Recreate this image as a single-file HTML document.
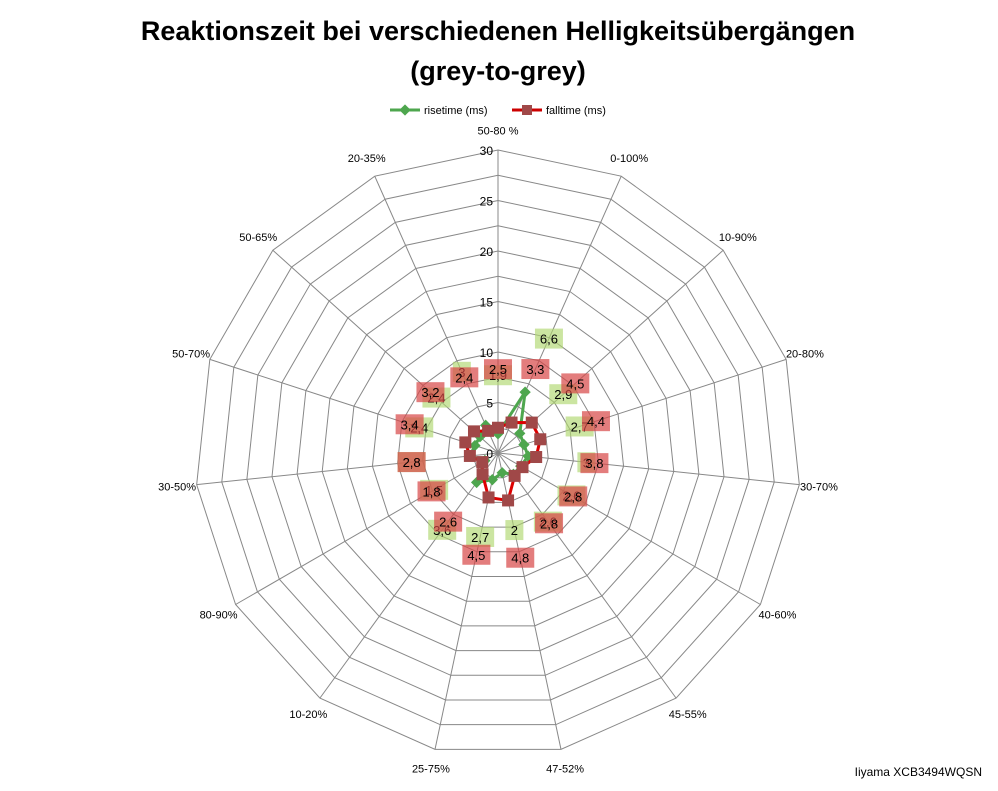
<!DOCTYPE html>
<html><head><meta charset="utf-8"><style>
body{margin:0;background:#fff;font-family:"Liberation Sans",sans-serif}
svg text{font-family:"Liberation Sans",sans-serif}
</style></head><body>
<svg width="998" height="786" viewBox="0 0 998 786">
<text x="498" y="40" text-anchor="middle" font-size="27" font-weight="bold">Reaktionszeit bei verschiedenen Helligkeitsübergängen</text>
<text x="498" y="80" text-anchor="middle" font-size="27" font-weight="bold">(grey-to-grey)</text>
<g>
<line x1="390" y1="110" x2="420" y2="110" stroke="#4ea64e" stroke-width="3"/><rect x="401" y="106" width="8" height="8" fill="#4ea64e" transform="rotate(45 405 110)"/>
<text x="424" y="114" font-size="11">risetime (ms)</text>
<line x1="512" y1="110" x2="542" y2="110" stroke="#cc0000" stroke-width="3"/><rect x="522" y="105" width="10" height="10" fill="#a04848"/>
<text x="546" y="114" font-size="11">falltime (ms)</text>
</g>
<g id="grid"></g><g id="series"></g><g id="labels"></g>
<text x="982" y="776" text-anchor="end" font-size="12">Iiyama XCB3494WQSN</text>
</svg>
<script>
const categories=["50-80 %","0-100%","10-90%","20-80%","30-70%","40-60%","45-55%","47-52%","25-75%","10-20%","80-90%","30-50%","50-70%","50-65%","20-35%"];
const risetime=[1.9,6.6,2.9,2.7,3,2.6,2.6,2,2.7,3.6,1.5,2.8,2.4,2.4,3];
const falltime=[2.5,3.3,4.5,4.4,3.8,2.8,2.8,4.8,4.5,2.6,1.8,2.8,3.4,3.2,2.4];
const tickLabels=[0,5,10,15,20,25,30];
const CX=498,CY=453,R=303,MAX=30,N=categories.length;
const NS="http://www.w3.org/2000/svg";
function ang(i){return -Math.PI/2+i*2*Math.PI/N;}
function pt(i,v){const a=ang(i),r=v/MAX*R;return [CX+r*Math.cos(a),CY+r*Math.sin(a)];}
function mk(t,attrs,parent){const e=document.createElementNS(NS,t);for(const k in attrs)e.setAttribute(k,attrs[k]);parent.appendChild(e);return e;}
const grid=document.getElementById('grid'),ser=document.getElementById('series'),lab=document.getElementById('labels');
for(let v=2.5;v<=MAX+0.01;v+=2.5){
 const p=mk('polygon',{points:categories.map((c,i)=>pt(i,v).join(',')).join(' '),fill:'none',stroke:'#888','stroke-width':1},grid);
 
 
}
categories.forEach((c,i)=>{
 const [x,y]=pt(i,MAX);
 const l=mk('line',{x1:CX,y1:CY,x2:x,y2:y,stroke:'#888','stroke-width':1},grid);
 
 
 const [lx,ly]=pt(i,MAX*1.065);
 const t=mk('text',{x:lx,y:ly+4,'text-anchor':'middle','font-size':11},grid);
 t.textContent=c;
 
 
});
tickLabels.forEach(v=>{
 const t=mk('text',{x:CX-5,y:CY-v/MAX*R+5,'text-anchor':'end','font-size':12},grid);
 t.textContent=v;
 
 
});
function series(vals,color,fill,isDiamond,name,boxFill){
 const pts=vals.map((v,i)=>pt(i,v));
 const pl=mk('polygon',{points:pts.map(p=>p.join(',')).join(' '),fill:'none',stroke:color,'stroke-width':3},ser);
 
 
 pts.forEach(([x,y])=>{
  let m;
  if(isDiamond)m=mk('rect',{x:x-4,y:y-4,width:8,height:8,fill:fill,transform:`rotate(45 ${x} ${y})`},ser);
  else m=mk('rect',{x:x-6,y:y-6,width:12,height:12,fill:fill},ser);
  
  
 });
 vals.forEach((v,i)=>{
  const [x,y]=pt(i,v+5.8);
  const s=String(v).replace('.',',');
  const w=s.length>1?28:18;
  const b=mk('rect',{x:x-w/2,y:y-10,width:w,height:20,fill:boxFill},lab);
  
  
  const t=mk('text',{x:x,y:y+5,'text-anchor':'middle','font-size':13},lab);
  t.textContent=s;
  
  
 });
}
series(risetime,'#4ea64e','#4ea64e',true,'risetime','rgba(175,215,110,0.65)');
series(falltime,'#dd0000','#a04848',false,'falltime','rgba(215,70,70,0.7)');
</script>
</body></html>
